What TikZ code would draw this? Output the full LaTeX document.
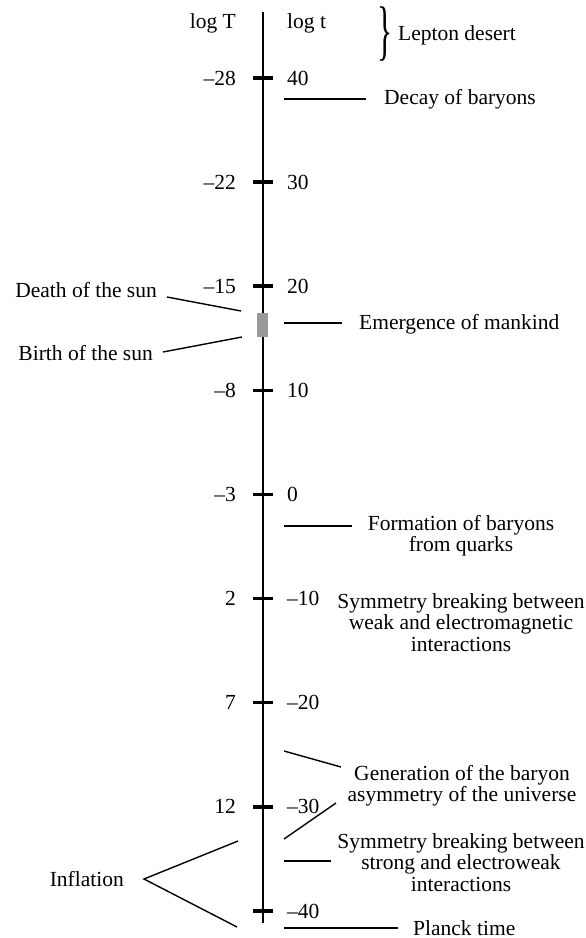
\documentclass[tikz,border=0pt]{standalone}
\usepackage{fontspec}
\usepackage{graphicx}
\setmainfont{Liberation Serif}
\definecolor{sungray}{HTML}{999999}
\begin{document}
\begin{tikzpicture}[x=1pt,y=-1pt,
  every node/.style={inner sep=0pt, font=\fontsize{21.5}{21.5}\selectfont},
  axisline/.style={line width=2.6pt},
  tickmark/.style={line width=3.6pt},
  conn/.style={line width=1.4pt},
  multi/.style={align=center, anchor=base}]
\useasboundingbox (0,0) rectangle (586,938);
% axis
\coordinate (atop) at (263,12);
\coordinate (abot) at (263,923);
\draw[axisline] (atop) -- (abot);
% header labels
\node[anchor=base east] (logT) at (236,28) {log T};
\node[anchor=base west] (logt) at (287,28) {log t};
% ticks
\foreach \i/\T/\t in {0/–28/40, 1/–22/30, 2/–15/20, 3/–8/10, 4/–3/0, 5/2/–10, 6/7/–20, 7/12/–30} {
  \pgfmathsetmacro{\yy}{78+104.1*\i}
  \coordinate (tl\i) at (253,\yy);
  \coordinate (tr\i) at (273,\yy);
  \draw[tickmark] (tl\i) -- (tr\i);
  \node[anchor=base east] (T\i) at (236,\yy+7) {\T};
  \node[anchor=base west] (t\i) at (287,\yy+7) {\t};
}
\coordinate (tl8) at (253,911);
\coordinate (tr8) at (273,911);
\draw[tickmark] (tl8) -- (tr8);
\node[anchor=base west] (t8) at (287,918) {–40};
% lepton desert
\node (brace) at (385,34) {\fontsize{30}{30}\selectfont\scalebox{1.05}[2.2]{\}}};
\node[anchor=base west] (lepton) at (398,40) {Lepton desert};
% decay of baryons
\coordinate (d1) at (284,99);
\coordinate (d2) at (366,99);
\draw[conn] (d1) -- (d2);
\node[anchor=base west] (decay) at (384,104) {Decay of baryons};
% sun
\node[draw=none, fill=sungray, minimum width=11pt, minimum height=24pt] (sun) at (262.5,325) {};
\node[anchor=base east] (death) at (157,297) {Death of the sun};
\node[anchor=base east] (birth) at (153,360) {Birth of the sun};
\coordinate (de1) at (167,297);
\coordinate (de2) at (241,311);
\coordinate (bi1) at (163,352);
\coordinate (bi2) at (242,337);
\draw[conn] (de1) -- (de2);
\draw[conn] (bi1) -- (bi2);
% emergence of mankind
\coordinate (e1) at (284,323);
\coordinate (e2) at (342,323);
\draw[conn] (e1) -- (e2);
\node[anchor=base west] (mankind) at (359,329) {Emergence of mankind};
% formation of baryons
\coordinate (f1) at (284,526);
\coordinate (f2) at (352,526);
\draw[conn] (f1) -- (f2);
\node[multi] (formation) at (461,551.5) {Formation of baryons\\from quarks};
% weak symmetry breaking
\node[multi] (weak) at (461,651) {Symmetry breaking between\\weak and electromagnetic\\interactions};
% generation of baryon asymmetry
\coordinate (g1) at (284,751);
\coordinate (g2) at (341,767);
\coordinate (g3) at (284,839);
\coordinate (g4) at (336,803);
\draw[conn] (g1) -- (g2);
\draw[conn] (g3) -- (g4);
\node[multi] (generation) at (462,801.5) {Generation of the baryon\\asymmetry of the universe};
% strong symmetry breaking
\coordinate (s1) at (284,861);
\coordinate (s2) at (331,861);
\draw[conn] (s1) -- (s2);
\node[multi] (strong) at (461,891) {Symmetry breaking between\\strong and electroweak\\interactions};
% planck time
\coordinate (p1) at (284,928);
\coordinate (p2) at (398,928);
\draw[conn] (p1) -- (p2);
\node[anchor=base west] (planck) at (413,935) {Planck time};
% inflation
\node[anchor=base east] (inflation) at (124,886) {Inflation};
\coordinate (apex) at (144,879);
\coordinate (in1) at (238,841);
\coordinate (in2) at (237,927);
\draw[conn] (in1) -- (apex) -- (in2);
\end{tikzpicture}
\end{document}
